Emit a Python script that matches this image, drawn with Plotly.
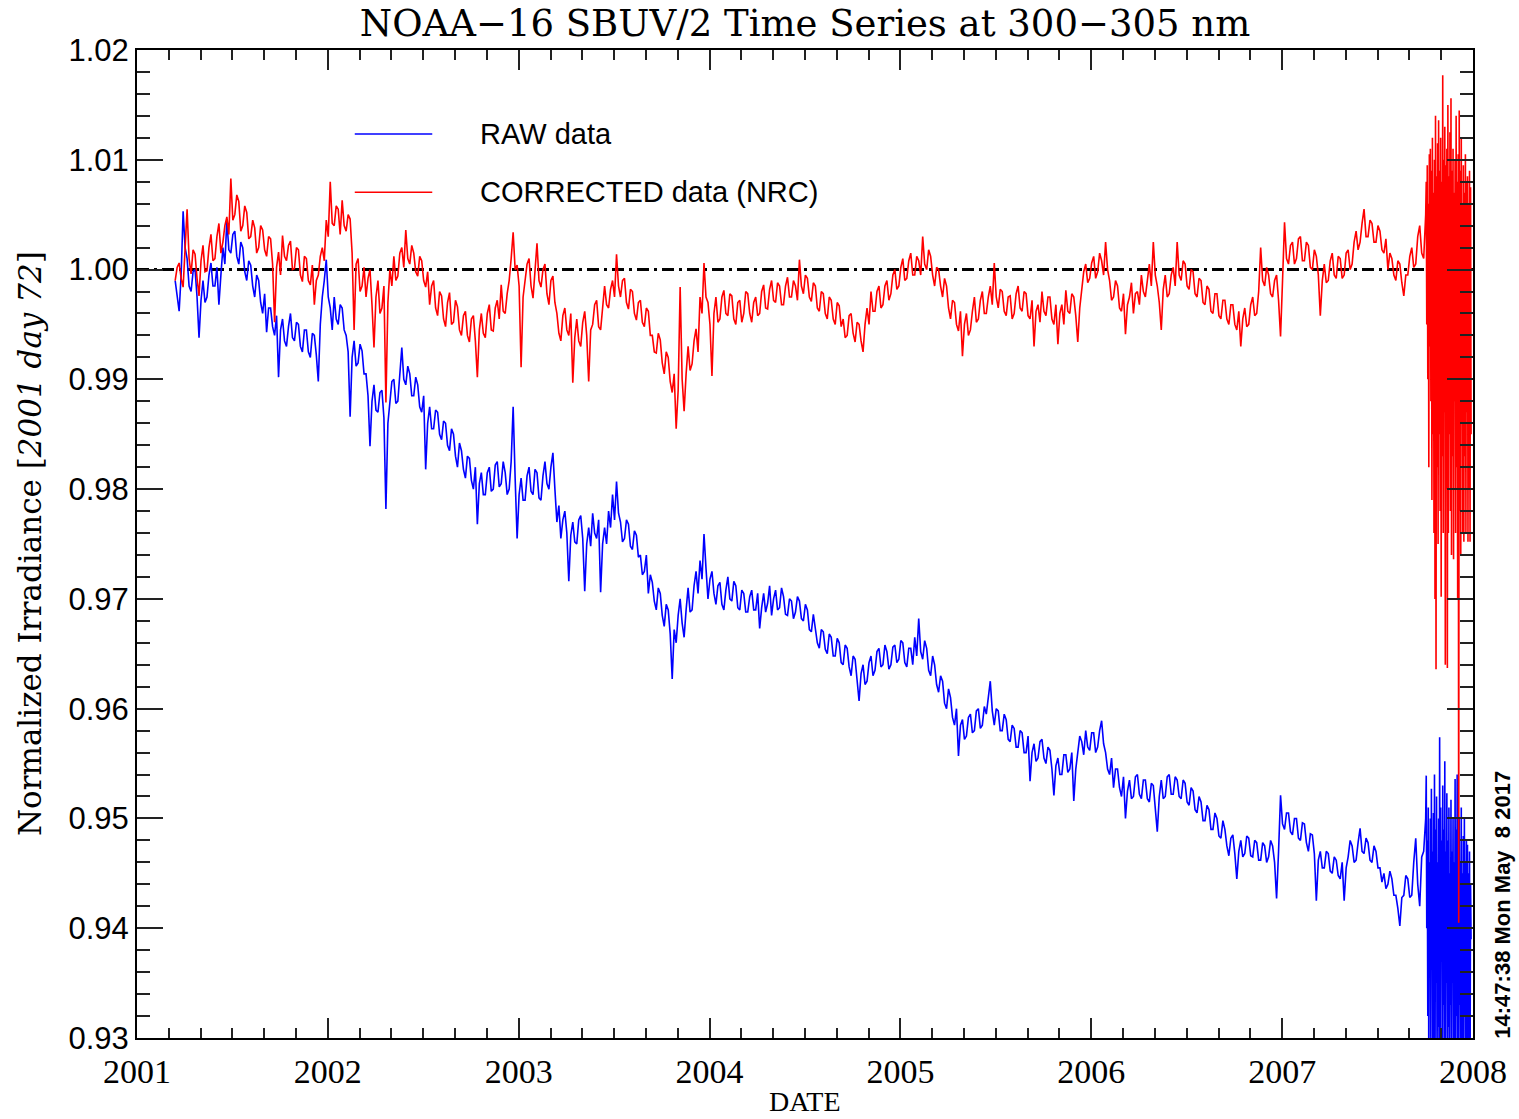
import numpy as np
import plotly.graph_objects as go

# ---------------- data (normalized irradiance) ----------------
MAIN_START = 2001.20      # 2001 day ~72
MAIN_STEP = 1 / 96        # ~3.8 day sampling of the main record
END_START = 2007.755
END_STEP = 0.0027         # ~daily sampling of the noisy end segment

raw_main = [
    0.9990, 0.9975, 0.9962, 0.9995, 1.0053, 1.0020, 1.0010, 0.9985, 0.9980, 0.9998, 1.0000, 0.9975, 0.9938, 0.9972, 0.9990, 0.9970, 0.9975, 0.9995, 1.0006, 0.9985, 0.9985, 1.0002, 0.9968, 0.9995,
    1.0020, 1.0005, 1.0045, 1.0018, 1.0015, 1.0032, 1.0035, 1.0012, 1.0005, 1.0025, 1.0020, 0.9998, 0.9990, 1.0008, 1.0004, 0.9985, 0.9975, 0.9995, 0.9990, 0.9970, 0.9960, 0.9978, 0.9943, 0.9965,
    0.9965, 0.9948, 0.9940, 0.9958, 0.9902, 0.9945, 0.9955, 0.9935, 0.9930, 0.9948, 0.9960, 0.9938, 0.9935, 0.9952, 0.9950, 0.9930, 0.9925, 0.9945, 0.9945, 0.9925, 0.9920, 0.9942, 0.9940, 0.9922,
    0.9898, 0.9950, 0.9975, 0.9990, 1.0009, 0.9975, 0.9965, 0.9945, 0.9975, 0.9955, 0.9950, 0.9968, 0.9965, 0.9945, 0.9940, 0.9925, 0.9866, 0.9920, 0.9935, 0.9912, 0.9915, 0.9932, 0.9926, 0.9905,
    0.9905, 0.9885, 0.9839, 0.9880, 0.9895, 0.9872, 0.9870, 0.9888, 0.9890, 0.9865, 0.9782, 0.9860, 0.9880, 0.9898, 0.9900, 0.9878, 0.9880, 0.9905, 0.9929, 0.9900, 0.9895, 0.9912, 0.9905, 0.9885,
    0.9885, 0.9902, 0.9895, 0.9875, 0.9870, 0.9885, 0.9818, 0.9860, 0.9875, 0.9855, 0.9855, 0.9872, 0.9870, 0.9850, 0.9845, 0.9862, 0.9860, 0.9840, 0.9835, 0.9855, 0.9850, 0.9830, 0.9820, 0.9842,
    0.9835, 0.9818, 0.9810, 0.9830, 0.9828, 0.9808, 0.9800, 0.9820, 0.9768, 0.9805, 0.9815, 0.9795, 0.9795, 0.9815, 0.9820, 0.9798, 0.9800, 0.9822, 0.9825, 0.9802, 0.9805, 0.9825, 0.9815, 0.9795,
    0.9800, 0.9825, 0.9875, 0.9810, 0.9755, 0.9795, 0.9810, 0.9790, 0.9790, 0.9812, 0.9820, 0.9798, 0.9795, 0.9818, 0.9815, 0.9792, 0.9790, 0.9812, 0.9825, 0.9805, 0.9800, 0.9820, 0.9833, 0.9800,
    0.9770, 0.9785, 0.9755, 0.9772, 0.9780, 0.9760, 0.9716, 0.9758, 0.9770, 0.9752, 0.9750, 0.9772, 0.9776, 0.9755, 0.9707, 0.9750, 0.9765, 0.9748, 0.9778, 0.9760, 0.9755, 0.9772, 0.9706, 0.9750,
    0.9765, 0.9750, 0.9780, 0.9765, 0.9795, 0.9772, 0.9807, 0.9778, 0.9770, 0.9752, 0.9755, 0.9772, 0.9768, 0.9748, 0.9745, 0.9762, 0.9758, 0.9738, 0.9740, 0.9722, 0.9725, 0.9740, 0.9705, 0.9722,
    0.9715, 0.9698, 0.9690, 0.9710, 0.9705, 0.9685, 0.9675, 0.9695, 0.9690, 0.9668, 0.9627, 0.9672, 0.9660, 0.9685, 0.9700, 0.9678, 0.9665, 0.9690, 0.9710, 0.9688, 0.9690, 0.9712, 0.9725, 0.9705,
    0.9735, 0.9718, 0.9759, 0.9728, 0.9700, 0.9718, 0.9725, 0.9705, 0.9695, 0.9712, 0.9715, 0.9695, 0.9690, 0.9708, 0.9720, 0.9700, 0.9698, 0.9716, 0.9712, 0.9692, 0.9690, 0.9708, 0.9705, 0.9688,
    0.9688, 0.9702, 0.9708, 0.9690, 0.9690, 0.9705, 0.9673, 0.9692, 0.9705, 0.9688, 0.9696, 0.9712, 0.9685, 0.9700, 0.9708, 0.9690, 0.9692, 0.9710, 0.9702, 0.9686, 0.9685, 0.9700, 0.9698, 0.9682,
    0.9688, 0.9702, 0.9698, 0.9682, 0.9680, 0.9695, 0.9690, 0.9672, 0.9670, 0.9686, 0.9675, 0.9660, 0.9655, 0.9672, 0.9670, 0.9654, 0.9650, 0.9668, 0.9665, 0.9648, 0.9648, 0.9664, 0.9660, 0.9642,
    0.9640, 0.9658, 0.9655, 0.9638, 0.9630, 0.9648, 0.9645, 0.9628, 0.9607, 0.9632, 0.9640, 0.9622, 0.9625, 0.9642, 0.9648, 0.9630, 0.9635, 0.9652, 0.9655, 0.9638, 0.9640, 0.9658, 0.9652, 0.9636,
    0.9640, 0.9656, 0.9658, 0.9642, 0.9645, 0.9662, 0.9660, 0.9642, 0.9638, 0.9655, 0.9655, 0.9640, 0.9665, 0.9648, 0.9682, 0.9652, 0.9645, 0.9662, 0.9655, 0.9635, 0.9630, 0.9648, 0.9640, 0.9622,
    0.9615, 0.9630, 0.9625, 0.9605, 0.9600, 0.9618, 0.9610, 0.9592, 0.9585, 0.9600, 0.9557, 0.9585, 0.9590, 0.9572, 0.9575, 0.9592, 0.9595, 0.9578, 0.9580, 0.9598, 0.9600, 0.9582, 0.9585, 0.9602,
    0.9595, 0.9610, 0.9625, 0.9598, 0.9585, 0.9600, 0.9598, 0.9580, 0.9580, 0.9595, 0.9590, 0.9572, 0.9570, 0.9585, 0.9582, 0.9565, 0.9565, 0.9580, 0.9578, 0.9560, 0.9560, 0.9575, 0.9534, 0.9560,
    0.9568, 0.9552, 0.9555, 0.9570, 0.9572, 0.9555, 0.9550, 0.9565, 0.9562, 0.9545, 0.9521, 0.9548, 0.9555, 0.9540, 0.9540, 0.9558, 0.9558, 0.9542, 0.9545, 0.9560, 0.9516, 0.9545, 0.9560, 0.9575,
    0.9570, 0.9558, 0.9580, 0.9565, 0.9562, 0.9578, 0.9578, 0.9560, 0.9565, 0.9580, 0.9589, 0.9568, 0.9560, 0.9545, 0.9540, 0.9555, 0.9528, 0.9545, 0.9545, 0.9528, 0.9520, 0.9538, 0.9500, 0.9525,
    0.9535, 0.9518, 0.9520, 0.9538, 0.9540, 0.9522, 0.9518, 0.9535, 0.9535, 0.9518, 0.9515, 0.9532, 0.9530, 0.9512, 0.9488, 0.9520, 0.9535, 0.9518, 0.9520, 0.9538, 0.9540, 0.9522, 0.9522, 0.9538,
    0.9535, 0.9520, 0.9518, 0.9535, 0.9532, 0.9515, 0.9512, 0.9528, 0.9525, 0.9508, 0.9505, 0.9520, 0.9515, 0.9498, 0.9498, 0.9512, 0.9508, 0.9490, 0.9490, 0.9505, 0.9500, 0.9484, 0.9482, 0.9498,
    0.9490, 0.9475, 0.9466, 0.9482, 0.9485, 0.9468, 0.9445, 0.9470, 0.9480, 0.9465, 0.9468, 0.9484, 0.9482, 0.9466, 0.9465, 0.9480, 0.9478, 0.9462, 0.9462, 0.9478, 0.9475, 0.9460, 0.9465, 0.9480,
    0.9475, 0.9460, 0.9427, 0.9470, 0.9521, 0.9495, 0.9490, 0.9505, 0.9505, 0.9488, 0.9485, 0.9500, 0.9500, 0.9482, 0.9480, 0.9496, 0.9495, 0.9478, 0.9470, 0.9486, 0.9485, 0.9468, 0.9425, 0.9462,
    0.9470, 0.9455, 0.9455, 0.9470, 0.9468, 0.9452, 0.9450, 0.9465, 0.9462, 0.9448, 0.9445, 0.9460, 0.9425, 0.9455, 0.9465, 0.9480, 0.9475, 0.9460, 0.9462, 0.9478, 0.9491, 0.9470, 0.9468, 0.9482,
    0.9478, 0.9462, 0.9460, 0.9475, 0.9470, 0.9455, 0.9455, 0.9442, 0.9450, 0.9436, 0.9440, 0.9452, 0.9445, 0.9430, 0.9430, 0.9418, 0.9402, 0.9428, 0.9430, 0.9448, 0.9445, 0.9428, 0.9430, 0.9460,
    0.9482, 0.9440, 0.9420, 0.9465, 0.9470, 0.9500,
]

corrected_main = [
    0.9990, 1.0002, 1.0006, 0.9992, 0.9984, 1.0020, 1.0055, 1.0010, 0.9996, 1.0018, 1.0014, 0.9992, 0.9976, 1.0008, 1.0022, 0.9998, 0.9999, 1.0020, 1.0032, 1.0008, 1.0010, 1.0030, 1.0042, 1.0015,
    1.0025, 1.0040, 1.0048, 1.0032, 1.0083, 1.0045, 1.0050, 1.0068, 1.0062, 1.0035, 1.0040, 1.0058, 1.0052, 1.0028, 1.0030, 1.0045, 1.0038, 1.0015, 1.0020, 1.0040, 1.0036, 1.0018, 1.0012, 1.0030,
    1.0028, 1.0005, 0.9952, 1.0002, 1.0016, 0.9995, 1.0031, 1.0012, 1.0008, 1.0022, 1.0026, 1.0000, 1.0001, 1.0020, 1.0018, 0.9995, 0.9989, 1.0012, 1.0010, 0.9990, 0.9986, 1.0004, 0.9968, 0.9990,
    0.9995, 1.0012, 1.0020, 1.0008, 1.0045, 1.0030, 1.0080, 1.0042, 1.0040, 1.0058, 1.0055, 1.0032, 1.0063, 1.0040, 1.0035, 1.0050, 1.0046, 1.0015, 0.9945, 1.0005, 1.0010, 0.9980, 0.9985, 1.0002,
    0.9975, 0.9992, 1.0000, 0.9968, 0.9929, 0.9975, 0.9990, 0.9960, 0.9965, 0.9985, 0.9879, 0.9970, 1.0000, 0.9985, 1.0012, 0.9990, 0.9994, 1.0015, 1.0020, 1.0002, 1.0036, 1.0010, 1.0005, 1.0022,
    1.0015, 0.9998, 0.9994, 1.0012, 1.0008, 0.9990, 0.9984, 0.9998, 0.9968, 0.9985, 0.9990, 0.9965, 0.9958, 0.9980, 0.9976, 0.9955, 0.9948, 0.9970, 0.9979, 0.9950, 0.9952, 0.9972, 0.9966, 0.9945,
    0.9940, 0.9958, 0.9962, 0.9940, 0.9934, 0.9955, 0.9958, 0.9935, 0.9902, 0.9945, 0.9960, 0.9942, 0.9938, 0.9960, 0.9968, 0.9945, 0.9944, 0.9965, 0.9972, 0.9955, 0.9986, 0.9962, 0.9960, 0.9978,
    0.9990, 1.0010, 1.0034, 1.0000, 1.0004, 0.9985, 0.9911, 0.9975, 0.9990, 1.0005, 1.0010, 0.9985, 0.9974, 1.0002, 1.0024, 0.9990, 0.9984, 1.0000, 1.0005, 0.9978, 0.9968, 0.9990, 0.9994, 0.9970,
    0.9960, 0.9942, 0.9935, 0.9958, 0.9965, 0.9945, 0.9940, 0.9960, 0.9897, 0.9938, 0.9955, 0.9935, 0.9930, 0.9952, 0.9962, 0.9940, 0.9898, 0.9945, 0.9950, 0.9968, 0.9972, 0.9948, 0.9945, 0.9965,
    0.9985, 0.9968, 0.9965, 0.9982, 0.9990, 0.9975, 1.0014, 0.9985, 0.9975, 0.9990, 0.9992, 0.9970, 0.9964, 0.9982, 0.9980, 0.9960, 0.9954, 0.9970, 0.9972, 0.9952, 0.9948, 0.9965, 0.9962, 0.9940,
    0.9940, 0.9925, 0.9924, 0.9942, 0.9936, 0.9915, 0.9905, 0.9925, 0.9920, 0.9898, 0.9888, 0.9905, 0.9855, 0.9890, 0.9984, 0.9900, 0.9871, 0.9905, 0.9930, 0.9908, 0.9914, 0.9935, 0.9946, 0.9925,
    0.9975, 0.9960, 1.0006, 0.9975, 0.9970, 0.9950, 0.9903, 0.9960, 0.9975, 0.9952, 0.9955, 0.9975, 0.9981, 0.9960, 0.9958, 0.9978, 0.9976, 0.9955, 0.9950, 0.9970, 0.9972, 0.9952, 0.9960, 0.9980,
    0.9978, 0.9960, 0.9952, 0.9970, 0.9975, 0.9958, 0.9960, 0.9980, 0.9986, 0.9965, 0.9964, 0.9982, 0.9990, 0.9972, 0.9970, 0.9988, 0.9985, 0.9968, 0.9968, 0.9985, 0.9993, 0.9975, 0.9975, 0.9990,
    0.9985, 0.9972, 1.0009, 0.9985, 0.9978, 0.9995, 0.9992, 0.9975, 0.9971, 0.9988, 0.9985, 0.9965, 0.9962, 0.9980, 0.9978, 0.9960, 0.9955, 0.9975, 0.9972, 0.9955, 0.9950, 0.9970, 0.9967, 0.9948,
    0.9955, 0.9938, 0.9940, 0.9958, 0.9960, 0.9942, 0.9934, 0.9952, 0.9950, 0.9935, 0.9925, 0.9950, 0.9965, 0.9950, 0.9980, 0.9962, 0.9962, 0.9980, 0.9985, 0.9965, 0.9968, 0.9985, 0.9990, 0.9972,
    0.9978, 0.9995, 1.0000, 0.9982, 0.9985, 1.0002, 1.0010, 0.9990, 0.9992, 1.0008, 1.0015, 0.9995, 0.9995, 1.0012, 1.0008, 0.9995, 1.0030, 1.0005, 1.0000, 1.0018, 1.0012, 0.9995, 0.9985, 1.0002,
    1.0000, 0.9985, 0.9975, 0.9992, 0.9985, 0.9965, 0.9955, 0.9972, 0.9970, 0.9950, 0.9944, 0.9962, 0.9921, 0.9950, 0.9960, 0.9940, 0.9945, 0.9962, 0.9975, 0.9952, 0.9955, 0.9972, 0.9980, 0.9960,
    0.9960, 0.9975, 0.9985, 0.9968, 1.0006, 0.9975, 0.9965, 0.9982, 0.9980, 0.9962, 0.9958, 0.9975, 0.9976, 0.9955, 0.9960, 0.9978, 0.9985, 0.9965, 0.9962, 0.9980, 0.9978, 0.9958, 0.9955, 0.9972,
    0.9930, 0.9962, 0.9968, 0.9952, 0.9980, 0.9962, 0.9958, 0.9975, 0.9975, 0.9955, 0.9950, 0.9968, 0.9932, 0.9960, 0.9968, 0.9950, 0.9981, 0.9962, 0.9960, 0.9978, 0.9975, 0.9958, 0.9934, 0.9965,
    0.9985, 0.9998, 1.0005, 0.9988, 0.9992, 1.0006, 1.0012, 0.9992, 0.9998, 1.0015, 1.0008, 0.9995, 1.0025, 1.0000, 0.9990, 0.9972, 0.9975, 0.9990, 0.9985, 0.9965, 0.9962, 0.9978, 0.9941, 0.9968,
    0.9975, 0.9988, 0.9960, 0.9978, 0.9980, 0.9968, 0.9995, 0.9980, 0.9975, 0.9992, 1.0005, 0.9985, 1.0025, 0.9995, 0.9985, 0.9970, 0.9945, 0.9982, 0.9995, 0.9975, 0.9978, 0.9995, 1.0002, 0.9985,
    1.0025, 0.9995, 0.9990, 1.0008, 1.0005, 0.9985, 0.9982, 1.0000, 0.9998, 0.9978, 0.9975, 0.9992, 0.9990, 0.9970, 0.9968, 0.9985, 0.9982, 0.9962, 0.9960, 0.9978, 0.9978, 0.9958, 0.9955, 0.9972,
    0.9972, 0.9955, 0.9950, 0.9968, 0.9968, 0.9950, 0.9945, 0.9962, 0.9930, 0.9955, 0.9965, 0.9948, 0.9950, 0.9968, 0.9975, 0.9958, 0.9960, 0.9980, 1.0020, 0.9990, 0.9985, 1.0002, 0.9995, 0.9978,
    0.9975, 0.9990, 0.9995, 0.9972, 0.9939, 0.9990, 1.0043, 1.0010, 1.0005, 1.0022, 1.0025, 1.0005, 1.0010, 1.0028, 1.0030, 1.0008, 1.0008, 1.0025, 1.0022, 1.0002, 1.0000, 1.0018, 1.0012, 0.9995,
    0.9958, 0.9990, 1.0005, 0.9988, 0.9990, 1.0008, 1.0015, 0.9995, 0.9992, 1.0012, 1.0010, 0.9992, 0.9995, 1.0015, 1.0018, 1.0000, 1.0005, 1.0025, 1.0035, 1.0018, 1.0025, 1.0042, 1.0055, 1.0030,
    1.0030, 1.0045, 1.0042, 1.0025, 1.0025, 1.0040, 1.0035, 1.0018, 1.0015, 1.0028, 1.0000, 1.0015, 1.0010, 0.9995, 0.9990, 1.0008, 1.0005, 0.9988, 0.9976, 0.9995, 0.9995, 1.0012, 1.0020, 1.0002,
    1.0005, 1.0030, 1.0040, 1.0015, 1.0010, 1.0050,
]

raw_end = [
    0.9539, 0.9400, 0.9480, 0.9320, 0.9510, 0.9250, 0.9460, 0.9360,
    0.9500, 0.9280, 0.9527, 0.9380, 0.9470, 0.9240, 0.9505, 0.9300,
    0.9540, 0.9250, 0.9490, 0.9350, 0.9520, 0.9260, 0.9460, 0.9310,
    0.9500, 0.9240, 0.9574, 0.9300, 0.9510, 0.9370, 0.9480, 0.9250,
    0.9530, 0.9330, 0.9490, 0.9250, 0.9552, 0.9280, 0.9470, 0.9350,
    0.9523, 0.9260, 0.9480, 0.9310, 0.9510, 0.9240, 0.9450, 0.9330,
    0.9517, 0.9270, 0.9470, 0.9350, 0.9500, 0.9250, 0.9460, 0.9300,
    0.9536, 0.9240, 0.9490, 0.9320, 0.9540, 0.9280, 0.9470, 0.9250,
    0.9500, 0.9330, 0.9460, 0.9260, 0.9510, 0.9300, 0.9450, 0.9240,
    0.9484, 0.9280, 0.9500, 0.9320, 0.9460, 0.9250, 0.9480, 0.9300,
    0.9476, 0.9260, 0.9450, 0.9300, 0.9470, 0.9250, 0.9440, 0.9390,
]

corrected_end = [
    1.0080, 0.9950, 1.0095, 0.9900, 1.0060, 0.9820, 1.0105, 0.9930,
    1.0110, 0.9880, 1.0090, 0.9790, 1.0120, 0.9850, 1.0070, 0.9760,
    1.0100, 0.9700, 1.0140, 0.9636, 1.0085, 0.9820, 1.0115, 0.9750,
    1.0136, 0.9850, 1.0090, 0.9780, 1.0120, 0.9702, 1.0080, 0.9830,
    1.0177, 0.9760, 1.0100, 0.9870, 1.0130, 0.9640, 1.0095, 0.9800,
    1.0110, 0.9637, 1.0150, 0.9760, 1.0085, 0.9850, 1.0125, 0.9780,
    1.0156, 0.9740, 1.0090, 0.9830, 1.0110, 0.9736, 1.0070, 0.9880,
    1.0100, 0.9760, 1.0140, 0.9820, 1.0080, 0.9700, 1.0105, 0.9405,
    1.0145, 0.9780, 1.0090, 0.9740, 1.0120, 0.9860, 1.0060, 0.9760,
    1.0095, 0.9752, 1.0070, 0.9830, 1.0105, 0.9760, 1.0080, 0.9870,
    1.0085, 0.9752, 1.0060, 0.9800, 1.0090, 0.9752, 1.0075, 0.9850,
]

REFERENCE_LEVEL = 1.00
YEAR_TICKS = [2001, 2002, 2003, 2004, 2005, 2006, 2007, 2008]

# ---------------- assemble ----------------
t_main = MAIN_START + MAIN_STEP * np.arange(len(raw_main))
t_end = END_START + END_STEP * np.arange(len(raw_end))
t = np.concatenate([t_main, t_end])
raw = np.concatenate([raw_main, raw_end])
cor = np.concatenate([corrected_main, corrected_end])

SERIF = "DejaVu Serif, Liberation Serif, serif"
TSERIF = "Liberation Serif, Times New Roman, serif"
SANS = "Liberation Sans, Arial, sans-serif"

fig = go.Figure()
fig.add_hline(y=REFERENCE_LEVEL, layer="below",
              line=dict(color="black", width=3, dash="12px,5px,3px,5px"))
fig.add_trace(go.Scatter(x=t, y=raw, mode="lines", name="RAW data",
                         line=dict(color="#0000ff", width=1.6)))
fig.add_trace(go.Scatter(x=t, y=cor, mode="lines", name="CORRECTED data (NRC)",
                         line=dict(color="#ff0000", width=1.6)))

# legend drawn as in the original (line sample + text)
leg_font = dict(family=SANS, size=29, color="black")
for ypos, col, label in [(0.915, "#0000ff", "RAW data"),
                         (0.856, "#ff0000", "CORRECTED data (NRC)")]:
    fig.add_shape(type="line", xref="paper", yref="paper",
                  x0=0.163, x1=0.221, y0=ypos, y1=ypos,
                  line=dict(color=col, width=1.6))
    fig.add_annotation(xref="paper", yref="paper", x=0.255, y=ypos, text=label,
                       showarrow=False, xanchor="left", yanchor="middle", font=leg_font)

# axis titles / stamps
fig.add_annotation(xref="paper", yref="paper", x=-0.080, y=0.50,
                   text="Normalized Irradiance [<i>2001 day 72</i>]",
                   textangle=-90, showarrow=False, xanchor="center", yanchor="middle",
                   font=dict(family=SERIF, size=31, color="black"))
fig.add_annotation(xref="paper", yref="paper", x=0.5, y=-0.064, text="DATE",
                   showarrow=False, xanchor="center", yanchor="middle",
                   font=dict(family=TSERIF, size=28, color="black"))
fig.add_annotation(xref="paper", yref="paper", x=1.0225, y=0.135,
                   text="14:47:38 Mon May\u00a0\u00a08 2017", textangle=-90,
                   showarrow=False, xanchor="center", yanchor="middle",
                   font=dict(family="Liberation Sans Narrow, Liberation Sans, Arial, sans-serif",
                             size=22, color="black", weight="bold"))

fig.update_layout(
    width=1519, height=1119,
    margin=dict(l=137, r=46, t=50, b=81),
    paper_bgcolor="white", plot_bgcolor="white",
    showlegend=False,
    title=dict(text="NOAA\u221216 SBUV/2 Time Series at 300\u2212305 nm",
               x=0.5, xref="paper", xanchor="center",
               y=1 - 23 / 1119, yref="container", yanchor="middle",
               font=dict(family=SERIF, size=37, color="black")),
    xaxis=dict(range=[2001, 2008], tickmode="array", tickvals=YEAR_TICKS,
               ticktext=[str(v) for v in YEAR_TICKS],
               ticks="inside", ticklen=20, tickwidth=1.5, tickcolor="#222",
               minor=dict(tickmode="linear", tick0=2001, dtick=1 / 6, ticks="inside",
                          ticklen=10, tickwidth=1.5, tickcolor="#222"),
               showline=True, linecolor="black", linewidth=2, mirror="ticks",
               showgrid=False, zeroline=False, ticklabelstandoff=2,
               tickfont=dict(family=TSERIF, size=34, color="black")),
    yaxis=dict(range=[0.93, 1.02], tickmode="linear", tick0=0.93, dtick=0.01,
               tickformat=".2f",
               ticks="inside", ticklen=26, tickwidth=1.5, tickcolor="#222",
               minor=dict(tickmode="linear", tick0=0.93, dtick=0.002, ticks="inside",
                          ticklen=13, tickwidth=1.5, tickcolor="#222"),
               showline=True, linecolor="black", linewidth=2, mirror="ticks",
               showgrid=False, zeroline=False, ticklabelstandoff=0,
               tickfont=dict(family=SANS, size=31, color="black")),
)

fig.write_html("out.html", config={"displayModeBar": False},
               post_script="document.body.style.margin='0px';document.body.style.overflow='hidden';")
